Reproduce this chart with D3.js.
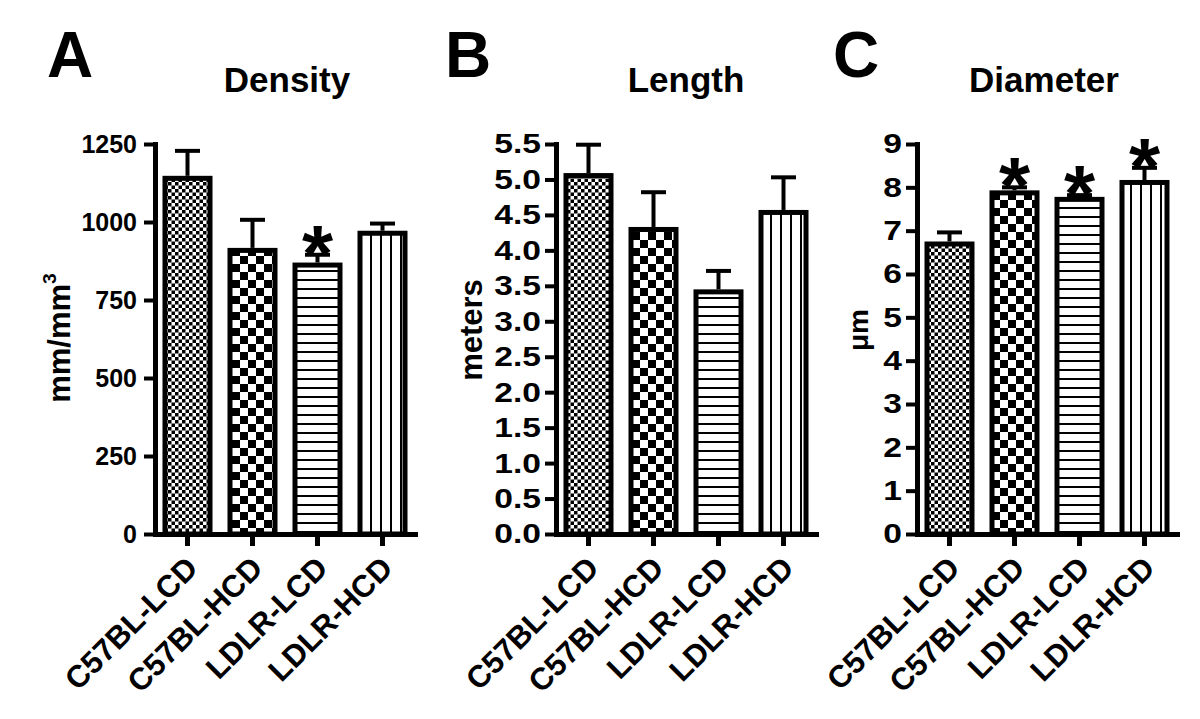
<!DOCTYPE html>
<html><head><meta charset="utf-8">
<script src="https://cdn.jsdelivr.net/npm/d3@7"></script>
<style>
body{margin:0;background:#fff;}
svg{display:block;font-family:"Liberation Sans",Arial,sans-serif;font-weight:bold;}
</style></head>
<body>
<svg id="chart" width="1200" height="719"></svg>
<script>
const categories = ["C57BL-LCD","C57BL-HCD","LDLR-LCD","LDLR-HCD"];
const densityMean = [1148, 917, 870, 972];
const densitySem  = [80, 90, 25, 23];
const densitySig  = [false, false, true, false];
const densityTicks = [0, 250, 500, 750, 1000, 1250];

const lengthMean = [5.09, 4.33, 3.45, 4.57];
const lengthSem  = [0.40, 0.49, 0.26, 0.46];
const lengthSig  = [false, false, false, false];
const lengthTicks = [0, 0.5, 1.0, 1.5, 2.0, 2.5, 3.0, 3.5, 4.0, 4.5, 5.0, 5.5];

const diameterMean = [6.75, 7.93, 7.78, 8.17];
const diameterSem  = [0.21, 0.07, 0.04, 0.28];
const diameterSig  = [false, true, true, true];
const diameterTicks = [0, 1, 2, 3, 4, 5, 6, 7, 8, 9];

const patterns = ["fineCheck", "coarseCheck", "hLines", "vLines"];

const svg = d3.select("#chart");
const defs = svg.append("defs");
// fine checkerboard
let p = defs.append("pattern").attr("id","fineCheck").attr("patternUnits","userSpaceOnUse").attr("width",7).attr("height",7);
p.append("rect").attr("width",7).attr("height",7).attr("fill","#fff");
p.append("rect").attr("width",3.5).attr("height",3.5).attr("fill","#000");
p.append("rect").attr("x",3.5).attr("y",3.5).attr("width",3.5).attr("height",3.5).attr("fill","#000");
// coarse checkerboard
p = defs.append("pattern").attr("id","coarseCheck").attr("patternUnits","userSpaceOnUse").attr("width",16).attr("height",16);
p.append("rect").attr("width",16).attr("height",16).attr("fill","#fff");
p.append("rect").attr("width",8).attr("height",8).attr("fill","#000");
p.append("rect").attr("x",8).attr("y",8).attr("width",8).attr("height",8).attr("fill","#000");
// horizontal lines
p = defs.append("pattern").attr("id","hLines").attr("patternUnits","userSpaceOnUse").attr("width",10).attr("height",9);
p.append("rect").attr("width",10).attr("height",9).attr("fill","#fff");
p.append("rect").attr("y",0).attr("width",10).attr("height",2).attr("fill","#000");
// vertical lines
p = defs.append("pattern").attr("id","vLines").attr("patternUnits","userSpaceOnUse").attr("width",10).attr("height",10);
p.append("rect").attr("width",10).attr("height",10).attr("fill","#fff");
p.append("rect").attr("x",0).attr("width",2).attr("height",10).attr("fill","#000");

const yTop = 144, yBot = 534;

const panels = [
  {letter:"A", letterX:47, title:"Density", titleX:287, x0:155, mean:densityMean, sem:densitySem, sig:densitySig,
   ticks:densityTicks, max:1250, fmt:d3.format("d"), tickFont:25, tickScale:1.0, tickX:-18,
   ylabel:["mm/mm","3"], ylabelX:70, ylabelY:338, ylabelFont:31},
  {letter:"B", letterX:445, title:"Length", titleX:686, x0:556, mean:lengthMean, sem:lengthSem, sig:lengthSig,
   ticks:lengthTicks, max:5.5, fmt:d3.format(".1f"), tickFont:28, tickScale:1.2, tickX:-15,
   ylabel:["meters",null], ylabelX:482, ylabelY:330, ylabelFont:31},
  {letter:"C", letterX:833, title:"Diameter", titleX:1044, x0:917, mean:diameterMean, sem:diameterSem, sig:diameterSig,
   ticks:diameterTicks, max:9, fmt:d3.format("d"), tickFont:28, tickScale:1.2, tickX:-15,
   ylabel:["\u03bcm",null], ylabelX:868, ylabelY:330, ylabelFont:28}
];

panels.forEach(P => {
  const g = svg.append("g");
  const x = d3.scaleBand().domain(categories).range([P.x0, P.x0 + 260]).paddingInner(15/65).paddingOuter(7.5/65);
  const y = d3.scaleLinear().domain([0, P.max]).range([yBot, yTop]);

  // titles
  g.append("text").attr("x", P.letterX).attr("y", 77).attr("font-size", 64).text(P.letter);
  g.append("text").attr("x", P.titleX).attr("y", 92).attr("font-size", 35).attr("text-anchor","middle").text(P.title);

  // y label
  const yl = g.append("text").attr("transform", `translate(${P.ylabelX},${P.ylabelY}) rotate(-90)`)
    .attr("text-anchor","middle").attr("font-size", P.ylabelFont);
  yl.append("tspan").text(P.ylabel[0]);
  if (P.ylabel[1]) yl.append("tspan").attr("font-size", P.ylabelFont*0.62).attr("dy", -P.ylabelFont*0.45).text(P.ylabel[1]);

  const data = categories.map((c,i) => ({c, m:P.mean[i], s:P.sem[i], sig:P.sig[i], pat:patterns[i]}));

  // error bars (upward only)
  data.forEach(d => {
    const cx = x(d.c) + x.bandwidth()/2;
    g.append("line").attr("x1",cx).attr("x2",cx).attr("y1",y(d.m)).attr("y2",y(d.m+d.s))
      .attr("stroke","#000").attr("stroke-width",4);
    g.append("line").attr("x1",cx-12.5).attr("x2",cx+12.5).attr("y1",y(d.m+d.s)).attr("y2",y(d.m+d.s))
      .attr("stroke","#000").attr("stroke-width",4);
    if (d.sig) {
      g.append("text").attr("x",cx).attr("y", y(d.m+d.s) - 19 + 45).attr("text-anchor","middle")
        .attr("font-size",80).text("*");
    }
  });

  // bars
  g.selectAll("rect.bar").data(data).join("rect").attr("class","bar")
    .attr("x", d => x(d.c) + 2.5).attr("width", x.bandwidth() - 5)
    .attr("y", d => y(d.m) + 2.5).attr("height", d => yBot - y(d.m) - 2.5)
    .attr("fill", d => `url(#${d.pat})`).attr("stroke","#000").attr("stroke-width",5);

  // y axis
  const ya = g.append("g").attr("transform",`translate(${P.x0},0)`)
    .call(d3.axisLeft(y).tickValues(P.ticks).tickFormat(P.fmt).tickSize(11).tickSizeOuter(0).tickPadding(4));
  ya.select(".domain").attr("stroke-width",5).attr("stroke-linecap","square");
  ya.selectAll(".tick line").attr("stroke-width",4);
  ya.selectAll(".tick text").attr("font-size",P.tickFont).attr("font-family","Liberation Sans, Arial, sans-serif")
    .attr("font-weight","bold").attr("fill","#000")
    .attr("transform", `scale(${P.tickScale},1)`).attr("x", P.tickX/P.tickScale);

  // x axis
  const xa = g.append("g").attr("transform",`translate(0,${yBot})`)
    .call(d3.axisBottom(x).tickSize(12).tickSizeOuter(0).tickPadding(6));
  xa.select(".domain").attr("stroke-width",5).attr("stroke-linecap","square");
  xa.selectAll(".tick line").attr("stroke-width",5);
  xa.selectAll(".tick text").attr("font-size",31).attr("font-family","Liberation Sans, Arial, sans-serif")
    .attr("font-weight","bold").attr("fill","#000")
    .attr("text-anchor","end").attr("x",0).attr("y",0).attr("dy",0)
    .attr("transform","translate(12,36) rotate(-45)");
});
</script>
</body></html>
